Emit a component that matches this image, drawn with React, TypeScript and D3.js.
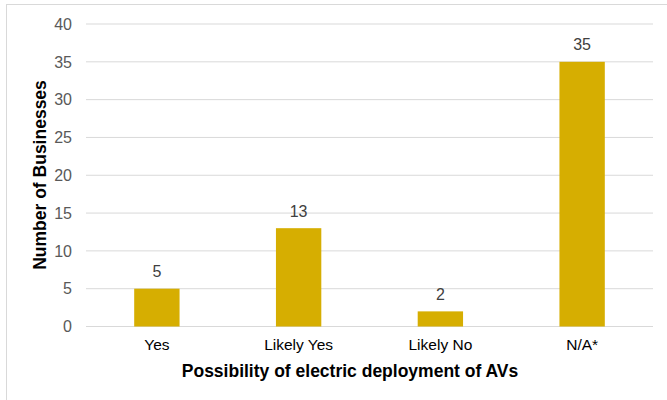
import React from "react";
import * as d3 from "d3";

const categories = ["Yes", "Likely Yes", "Likely No", "N/A*"];
const counts = [5, 13, 2, 35];
const yTicks = [0, 5, 10, 15, 20, 25, 30, 35, 40];

const W = 667;
const H = 400;
const plot = { left: 86, right: 653, top: 24, bottom: 326.5 };
const FONT = "'Liberation Sans', Arial, sans-serif";

export default function App() {
  const x = d3
    .scaleBand<string>()
    .domain(categories)
    .range([plot.left, plot.right])
    .paddingInner(0.68)
    .paddingOuter(0.34);
  const y = d3.scaleLinear().domain([0, 40]).range([plot.bottom, plot.top]);

  return (
    <svg
      width={W}
      height={H}
      style={{ position: "absolute", left: 0, top: 0 }}
      fontFamily={FONT}
    >
      <rect x={0} y={0} width={W} height={H} fill="#fff" />
      <rect x={6.5} y={4.5} width={W + 10} height={H + 10} fill="#fff" stroke="#d9d9d9" />
      {yTicks.map((t) => (
        <g key={t}>
          <line
            x1={plot.left}
            x2={plot.right}
            y1={y(t)}
            y2={y(t)}
            stroke="#d9d9d9"
            strokeWidth={1}
          />
          <text
            x={72}
            y={y(t)}
            dy="0.36em"
            textAnchor="end"
            fontSize={16}
            fill="#595959"
          >
            {t}
          </text>
        </g>
      ))}
      {categories.map((c, i) => {
        const bx = x(c)!;
        const cx = bx + x.bandwidth() / 2;
        return (
          <g key={c}>
            <rect
              x={bx}
              y={y(counts[i])}
              width={x.bandwidth()}
              height={y(0) - y(counts[i])}
              fill="#D6AE01"
            />
            <text
              x={cx}
              y={y(counts[i]) - 11.5}
              textAnchor="middle"
              fontSize={16}
              fill="#404040"
            >
              {counts[i]}
            </text>
            <text
              x={cx}
              y={350}
              textAnchor="middle"
              fontSize={15.5}
              fill="#000"
            >
              {c}
            </text>
          </g>
        );
      })}
      <text
        x={350}
        y={377}
        textAnchor="middle"
        fontSize={17.5}
        fontWeight="bold"
        fill="#000"
      >
        Possibility of electric deployment of AVs
      </text>
      <text
        transform="translate(46, 175) rotate(-90)"
        textAnchor="middle"
        fontSize={17.5}
        fontWeight="bold"
        fill="#000"
      >
        Number of Businesses
      </text>
    </svg>
  );
}
